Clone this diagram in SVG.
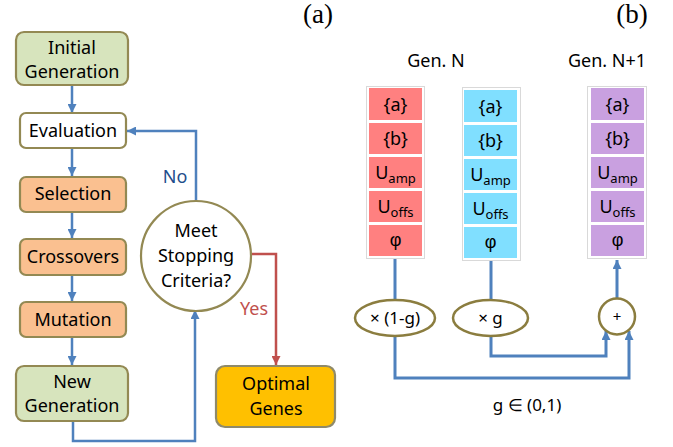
<svg xmlns="http://www.w3.org/2000/svg" width="673" height="447" viewBox="0 0 673 447">
<style>
text{font-family:"Noto Sans","Open Sans",sans-serif;fill:#000;text-anchor:middle}
.t{font-size:18px}
.phi{font-family:"Liberation Sans","DejaVu Sans",sans-serif;font-size:18px}
.lbl{font-family:"Liberation Serif",serif;font-size:27px}
.box{stroke:#938953;stroke-width:2.2}
.green{fill:#d7e4bd}
.orange{fill:#fac090}
.white{fill:#fff}
.gold{fill:#ffc000;stroke:#8f8a6a}
.olive{fill:#fff;stroke:#8b7d3f;stroke-width:2.5}
.blue{fill:none;stroke:#4f81bd;stroke-width:2.5}
.thick{stroke-width:3}
.red{fill:none;stroke:#c0504d;stroke-width:2.5}
.frame{fill:#fff;stroke:#d9d9d9;stroke-width:1}
.cr{fill:#ff8080}
.cb{fill:#80dfff}
.cp{fill:#c9a0e0}
.sub{font-size:13px}
</style>
<defs>
<marker id="ab" viewBox="0 0 10 10" refX="10" refY="5" markerWidth="9" markerHeight="9" markerUnits="userSpaceOnUse" orient="auto"><path d="M0,0 L10,5 L0,10 z" fill="#4f81bd"/></marker>
<marker id="ar" viewBox="0 0 10 10" refX="10" refY="5" markerWidth="9" markerHeight="9" markerUnits="userSpaceOnUse" orient="auto"><path d="M0,0 L10,5 L0,10 z" fill="#c0504d"/></marker>
</defs>

<text class="lbl" x="318" y="23">(a)</text>
<text class="lbl" x="632" y="23">(b)</text>

<g id="connectors">
<path class="blue" d="M72,86 V113" marker-end="url(#ab)"/>
<path class="blue" d="M72,149 V176" marker-end="url(#ab)"/>
<path class="blue" d="M72,213 V238" marker-end="url(#ab)"/>
<path class="blue" d="M72,276 V301" marker-end="url(#ab)"/>
<path class="blue" d="M72,338 V365" marker-end="url(#ab)"/>
<path class="blue" d="M73,422 V441 H195 V310" marker-end="url(#ab)"/>
<path class="blue" d="M196,202 V131 H127" marker-end="url(#ab)"/>
<path class="red" d="M252,254 H276 V365" marker-end="url(#ar)"/>
<text x="175" y="183" style="font-size:18px;fill:#1f4e8c">No</text>
<text x="254" y="315" style="font-size:18px;fill:#c0504d">Yes</text>

<path class="blue thick" d="M395,259 V300"/>
<path class="blue thick" d="M491,261 V300"/>
<path class="blue thick" d="M617,298 V260" marker-end="url(#ab)"/>
<path class="blue thick" d="M491,336 V356 H606 V331" marker-end="url(#ab)"/>
<path class="blue thick" d="M395,336 V378 H629 V331" marker-end="url(#ab)"/>
</g>

<g id="initial"><rect class="box green" x="16" y="32" width="112" height="53" rx="8"/><text class="t" x="72" y="54">Initial</text><text class="t" x="72" y="78">Generation</text></g>
<g id="evaluation"><rect class="box white" x="20" y="113" width="106" height="35" rx="6"/><text class="t" x="73" y="137">Evaluation</text></g>
<g id="selection"><rect class="box orange" x="20" y="177" width="106" height="35" rx="6"/><text class="t" x="73" y="200">Selection</text></g>
<g id="crossovers"><rect class="box orange" x="20" y="239" width="106" height="36" rx="6"/><text class="t" x="73" y="263">Crossovers</text></g>
<g id="mutation"><rect class="box orange" x="20" y="302" width="106" height="35" rx="6"/><text class="t" x="73" y="326">Mutation</text></g>
<g id="newgen"><rect class="box green" x="16" y="366" width="112" height="55" rx="8"/><text class="t" x="72" y="388">New</text><text class="t" x="72" y="412">Generation</text></g>
<g id="stop"><circle cx="196" cy="256" r="55" fill="#fff" stroke="#938953" stroke-width="2.2"/><text class="t" x="196" y="237">Meet</text><text class="t" x="196" y="262">Stopping</text><text class="t" x="196" y="287">Criteria?</text></g>
<g id="optimal"><rect class="box gold" x="216" y="366" width="119" height="61" rx="9"/><text class="t" x="276" y="390">Optimal</text><text class="t" x="276" y="415">Genes</text></g>

<g id="genN-label"><text class="t" x="436" y="67">Gen. N</text></g>
<g id="genN1-label"><text class="t" x="607" y="67">Gen. N+1</text></g>

<g id="col-red">
<rect class="frame" x="366.5" y="86.5" width="58" height="172"/>
<rect class="cr" x="369" y="88" width="53" height="32"/>
<rect class="cr" x="369" y="123" width="53" height="31"/>
<rect class="cr" x="369" y="157" width="53" height="31"/>
<rect class="cr" x="369" y="191" width="53" height="31"/>
<rect class="cr" x="369" y="225" width="53" height="31"/>
<text class="t" x="395.5" y="111">{a}</text>
<text class="t" x="395.5" y="145">{b}</text>
<text class="t" x="395.5" y="179">U<tspan class="sub" dy="4">amp</tspan></text>
<text class="t" x="395.5" y="213">U<tspan class="sub" dy="4">offs</tspan></text>
<text class="phi" x="395.5" y="246">φ</text>
</g>
<g id="col-blue">
<rect class="frame" x="462.5" y="87.5" width="58" height="173"/>
<rect class="cb" x="464" y="90" width="53" height="32"/>
<rect class="cb" x="464" y="125" width="53" height="31"/>
<rect class="cb" x="464" y="159" width="53" height="31"/>
<rect class="cb" x="464" y="193" width="53" height="31"/>
<rect class="cb" x="464" y="227" width="53" height="31"/>
<text class="t" x="490.5" y="113">{a}</text>
<text class="t" x="490.5" y="147">{b}</text>
<text class="t" x="490.5" y="181">U<tspan class="sub" dy="4">amp</tspan></text>
<text class="t" x="490.5" y="215">U<tspan class="sub" dy="4">offs</tspan></text>
<text class="phi" x="490.5" y="248">φ</text>
</g>
<g id="col-purple">
<rect class="frame" x="587.5" y="86.5" width="59" height="172"/>
<rect class="cp" x="591" y="88" width="53" height="32"/>
<rect class="cp" x="591" y="123" width="53" height="31"/>
<rect class="cp" x="591" y="157" width="53" height="31"/>
<rect class="cp" x="591" y="191" width="53" height="31"/>
<rect class="cp" x="591" y="225" width="53" height="31"/>
<text class="t" x="617.5" y="111">{a}</text>
<text class="t" x="617.5" y="145">{b}</text>
<text class="t" x="617.5" y="179">U<tspan class="sub" dy="4">amp</tspan></text>
<text class="t" x="617.5" y="213">U<tspan class="sub" dy="4">offs</tspan></text>
<text class="phi" x="617.5" y="246">φ</text>
</g>

<g id="mul1"><ellipse class="olive" cx="395" cy="318" rx="40" ry="18"/><text x="395" y="324" style="font-size:17px">× (1-g)</text></g>
<g id="mulg"><ellipse class="olive" cx="490.5" cy="318" rx="37.5" ry="18"/><text x="490.5" y="324" style="font-size:17px">× g</text></g>
<g id="plus"><circle class="olive" cx="617" cy="316.5" r="18"/><text x="617" y="322" style="font-size:15px">+</text></g>
<text x="527" y="411" style="font-size:17px">g ∈ (0,1)</text>
</svg>
